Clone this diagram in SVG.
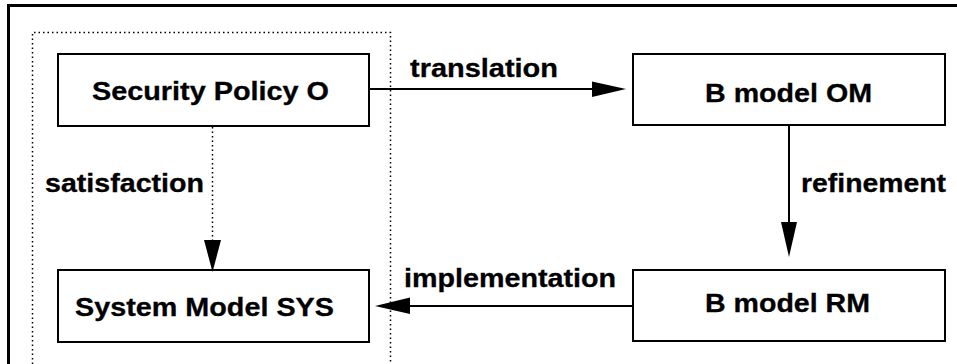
<svg xmlns="http://www.w3.org/2000/svg" width="957" height="364" viewBox="0 0 957 364">
<style>
.box{fill:#fff;stroke:#000;stroke-width:2}
.lbl{font-family:"Liberation Sans",Arial,sans-serif;font-weight:bold;font-size:25.5px;fill:#000;stroke:#000;stroke-width:0.3}
.ln{stroke:#000;stroke-width:2;fill:none}
.dot{stroke:#000;stroke-width:1.5;fill:none;stroke-dasharray:1.5 3}
.head{fill:#000;stroke:none}
</style>
<rect width="957" height="364" fill="#fff"/>
<path d="M8.5,364 V5.5 H957" fill="none" stroke="#000" stroke-width="3"/>
<path class="dot" d="M32.5,364 V32.5 H390.5 V364"/>
<g id="security-policy">
<rect class="box" x="58" y="54" width="311" height="72"/>
<text class="lbl" x="92" y="100" textLength="237" lengthAdjust="spacingAndGlyphs">Security Policy O</text>
</g>
<g id="system-model">
<rect class="box" x="58" y="270" width="311" height="72"/>
<text class="lbl" x="75" y="316" textLength="259" lengthAdjust="spacingAndGlyphs">System Model SYS</text>
</g>
<g id="b-model-om">
<rect class="box" x="633" y="54" width="312" height="71"/>
<text class="lbl" x="705" y="102" textLength="167" lengthAdjust="spacingAndGlyphs">B model OM</text>
</g>
<g id="b-model-rm">
<rect class="box" x="633" y="270" width="312" height="71"/>
<text class="lbl" x="705" y="312" textLength="165" lengthAdjust="spacingAndGlyphs">B model RM</text>
</g>
<g id="connectors">
<line class="dot" x1="212.5" y1="127" x2="212.5" y2="241"/>
<polygon class="head" points="204,240 221,240 212.5,272"/>
<text class="lbl" x="45" y="192" textLength="159" lengthAdjust="spacingAndGlyphs">satisfaction</text>
<line class="ln" x1="369" y1="89" x2="593" y2="89"/>
<polygon class="head" points="592,81.5 626,89 592,97"/>
<text class="lbl" x="410" y="77" textLength="148" lengthAdjust="spacingAndGlyphs">translation</text>
<line class="ln" x1="789" y1="125" x2="789" y2="223"/>
<polygon class="head" points="781,222 797,222 789,257"/>
<text class="lbl" x="801" y="192" textLength="145" lengthAdjust="spacingAndGlyphs">refinement</text>
<line class="ln" x1="633" y1="306" x2="409" y2="306"/>
<polygon class="head" points="410,297.5 410,314 375,306"/>
<text class="lbl" x="404" y="287" textLength="212" lengthAdjust="spacingAndGlyphs">implementation</text>
</g>
</svg>
